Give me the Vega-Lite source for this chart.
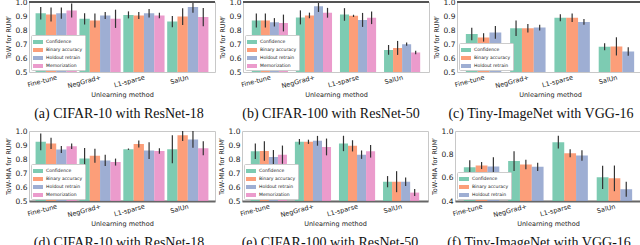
{
"$schema": "https://vega.github.io/schema/vega-lite/v6.json",
"padding": {"left": 4, "top": -3, "right": 0, "bottom": 0},
"data": {"values": [
{"p":"a","m":"Fine-tune","s":"Confidence","v":0.92,"lo":0.875,"hi":0.965},
{"p":"a","m":"Fine-tune","s":"Binary accuracy","v":0.911,"lo":0.861,"hi":0.96},
{"p":"a","m":"Fine-tune","s":"Holdout retrain","v":0.92,"lo":0.88,"hi":0.96},
{"p":"a","m":"Fine-tune","s":"Memorization","v":0.94,"lo":0.89,"hi":0.99},
{"p":"a","m":"NegGrad+","s":"Confidence","v":0.88,"lo":0.84,"hi":0.92},
{"p":"a","m":"NegGrad+","s":"Binary accuracy","v":0.867,"lo":0.817,"hi":0.917},
{"p":"a","m":"NegGrad+","s":"Holdout retrain","v":0.904,"lo":0.879,"hi":0.929},
{"p":"a","m":"NegGrad+","s":"Memorization","v":0.88,"lo":0.815,"hi":0.945},
{"p":"a","m":"L1-sparse","s":"Confidence","v":0.908,"lo":0.883,"hi":0.933},
{"p":"a","m":"L1-sparse","s":"Binary accuracy","v":0.904,"lo":0.879,"hi":0.929},
{"p":"a","m":"L1-sparse","s":"Holdout retrain","v":0.92,"lo":0.89,"hi":0.95},
{"p":"a","m":"L1-sparse","s":"Memorization","v":0.904,"lo":0.884,"hi":0.924},
{"p":"a","m":"SalUn","s":"Confidence","v":0.86,"lo":0.82,"hi":0.9},
{"p":"a","m":"SalUn","s":"Binary accuracy","v":0.896,"lo":0.836,"hi":0.956},
{"p":"a","m":"SalUn","s":"Holdout retrain","v":0.964,"lo":0.924,"hi":1.004},
{"p":"a","m":"SalUn","s":"Memorization","v":0.892,"lo":0.827,"hi":0.957},
{"p":"b","m":"Fine-tune","s":"Confidence","v":0.867,"lo":0.817,"hi":0.917},
{"p":"b","m":"Fine-tune","s":"Binary accuracy","v":0.867,"lo":0.817,"hi":0.917},
{"p":"b","m":"Fine-tune","s":"Holdout retrain","v":0.855,"lo":0.825,"hi":0.885},
{"p":"b","m":"Fine-tune","s":"Memorization","v":0.85,"lo":0.79,"hi":0.91},
{"p":"b","m":"NegGrad+","s":"Confidence","v":0.89,"lo":0.84,"hi":0.94},
{"p":"b","m":"NegGrad+","s":"Binary accuracy","v":0.904,"lo":0.884,"hi":0.924},
{"p":"b","m":"NegGrad+","s":"Holdout retrain","v":0.969,"lo":0.929,"hi":1.009},
{"p":"b","m":"NegGrad+","s":"Memorization","v":0.923,"lo":0.888,"hi":0.958},
{"p":"b","m":"L1-sparse","s":"Confidence","v":0.911,"lo":0.866,"hi":0.956},
{"p":"b","m":"L1-sparse","s":"Binary accuracy","v":0.901,"lo":0.893,"hi":0.909},
{"p":"b","m":"L1-sparse","s":"Holdout retrain","v":0.872,"lo":0.822,"hi":0.922},
{"p":"b","m":"L1-sparse","s":"Memorization","v":0.887,"lo":0.842,"hi":0.932},
{"p":"b","m":"SalUn","s":"Confidence","v":0.658,"lo":0.623,"hi":0.693},
{"p":"b","m":"SalUn","s":"Binary accuracy","v":0.672,"lo":0.622,"hi":0.722},
{"p":"b","m":"SalUn","s":"Holdout retrain","v":0.699,"lo":0.687,"hi":0.711},
{"p":"b","m":"SalUn","s":"Memorization","v":0.639,"lo":0.627,"hi":0.651},
{"p":"c","m":"Fine-tune","s":"Confidence","v":0.771,"lo":0.726,"hi":0.816},
{"p":"c","m":"Fine-tune","s":"Binary accuracy","v":0.747,"lo":0.717,"hi":0.777},
{"p":"c","m":"Fine-tune","s":"Holdout retrain","v":0.783,"lo":0.738,"hi":0.828},
{"p":"c","m":"NegGrad+","s":"Confidence","v":0.812,"lo":0.757,"hi":0.867},
{"p":"c","m":"NegGrad+","s":"Binary accuracy","v":0.812,"lo":0.782,"hi":0.842},
{"p":"c","m":"NegGrad+","s":"Holdout retrain","v":0.817,"lo":0.797,"hi":0.837},
{"p":"c","m":"L1-sparse","s":"Confidence","v":0.887,"lo":0.862,"hi":0.912},
{"p":"c","m":"L1-sparse","s":"Binary accuracy","v":0.887,"lo":0.857,"hi":0.917},
{"p":"c","m":"L1-sparse","s":"Holdout retrain","v":0.858,"lo":0.838,"hi":0.878},
{"p":"c","m":"SalUn","s":"Confidence","v":0.68,"lo":0.655,"hi":0.705},
{"p":"c","m":"SalUn","s":"Binary accuracy","v":0.683,"lo":0.618,"hi":0.748},
{"p":"c","m":"SalUn","s":"Holdout retrain","v":0.646,"lo":0.616,"hi":0.676},
{"p":"d","m":"Fine-tune","s":"Confidence","v":0.923,"lo":0.863,"hi":0.983},
{"p":"d","m":"Fine-tune","s":"Binary accuracy","v":0.911,"lo":0.871,"hi":0.951},
{"p":"d","m":"Fine-tune","s":"Holdout retrain","v":0.867,"lo":0.842,"hi":0.892},
{"p":"d","m":"Fine-tune","s":"Memorization","v":0.891,"lo":0.871,"hi":0.911},
{"p":"d","m":"NegGrad+","s":"Confidence","v":0.804,"lo":0.729,"hi":0.879},
{"p":"d","m":"NegGrad+","s":"Binary accuracy","v":0.824,"lo":0.774,"hi":0.874},
{"p":"d","m":"NegGrad+","s":"Holdout retrain","v":0.79,"lo":0.75,"hi":0.83},
{"p":"d","m":"NegGrad+","s":"Memorization","v":0.778,"lo":0.753,"hi":0.803},
{"p":"d","m":"L1-sparse","s":"Confidence","v":0.87,"lo":0.865,"hi":0.875},
{"p":"d","m":"L1-sparse","s":"Binary accuracy","v":0.908,"lo":0.883,"hi":0.933},
{"p":"d","m":"L1-sparse","s":"Holdout retrain","v":0.86,"lo":0.8,"hi":0.92},
{"p":"d","m":"L1-sparse","s":"Memorization","v":0.857,"lo":0.837,"hi":0.877},
{"p":"d","m":"SalUn","s":"Confidence","v":0.87,"lo":0.77,"hi":0.97},
{"p":"d","m":"SalUn","s":"Binary accuracy","v":0.969,"lo":0.929,"hi":1.009},
{"p":"d","m":"SalUn","s":"Holdout retrain","v":0.94,"lo":0.88,"hi":1.0},
{"p":"d","m":"SalUn","s":"Memorization","v":0.877,"lo":0.827,"hi":0.927},
{"p":"e","m":"Fine-tune","s":"Confidence","v":0.855,"lo":0.8,"hi":0.91},
{"p":"e","m":"Fine-tune","s":"Binary accuracy","v":0.857,"lo":0.787,"hi":0.927},
{"p":"e","m":"Fine-tune","s":"Holdout retrain","v":0.814,"lo":0.764,"hi":0.864},
{"p":"e","m":"Fine-tune","s":"Memorization","v":0.831,"lo":0.766,"hi":0.896},
{"p":"e","m":"NegGrad+","s":"Confidence","v":0.923,"lo":0.903,"hi":0.943},
{"p":"e","m":"NegGrad+","s":"Binary accuracy","v":0.923,"lo":0.908,"hi":0.938},
{"p":"e","m":"NegGrad+","s":"Holdout retrain","v":0.93,"lo":0.895,"hi":0.965},
{"p":"e","m":"NegGrad+","s":"Memorization","v":0.886,"lo":0.826,"hi":0.946},
{"p":"e","m":"L1-sparse","s":"Confidence","v":0.911,"lo":0.856,"hi":0.966},
{"p":"e","m":"L1-sparse","s":"Binary accuracy","v":0.894,"lo":0.854,"hi":0.934},
{"p":"e","m":"L1-sparse","s":"Holdout retrain","v":0.831,"lo":0.801,"hi":0.861},
{"p":"e","m":"L1-sparse","s":"Memorization","v":0.855,"lo":0.81,"hi":0.9},
{"p":"e","m":"SalUn","s":"Confidence","v":0.638,"lo":0.598,"hi":0.678},
{"p":"e","m":"SalUn","s":"Binary accuracy","v":0.638,"lo":0.563,"hi":0.713},
{"p":"e","m":"SalUn","s":"Holdout retrain","v":0.638,"lo":0.608,"hi":0.668},
{"p":"e","m":"SalUn","s":"Memorization","v":0.56,"lo":0.535,"hi":0.585},
{"p":"f","m":"Fine-tune","s":"Confidence","v":0.69,"lo":0.63,"hi":0.75},
{"p":"f","m":"Fine-tune","s":"Binary accuracy","v":0.704,"lo":0.674,"hi":0.734},
{"p":"f","m":"Fine-tune","s":"Holdout retrain","v":0.696,"lo":0.616,"hi":0.776},
{"p":"f","m":"NegGrad+","s":"Confidence","v":0.742,"lo":0.657,"hi":0.827},
{"p":"f","m":"NegGrad+","s":"Binary accuracy","v":0.713,"lo":0.673,"hi":0.753},
{"p":"f","m":"NegGrad+","s":"Holdout retrain","v":0.693,"lo":0.658,"hi":0.728},
{"p":"f","m":"L1-sparse","s":"Confidence","v":0.904,"lo":0.849,"hi":0.959},
{"p":"f","m":"L1-sparse","s":"Binary accuracy","v":0.809,"lo":0.774,"hi":0.844},
{"p":"f","m":"L1-sparse","s":"Holdout retrain","v":0.791,"lo":0.746,"hi":0.836},
{"p":"f","m":"SalUn","s":"Confidence","v":0.603,"lo":0.503,"hi":0.703},
{"p":"f","m":"SalUn","s":"Binary accuracy","v":0.594,"lo":0.484,"hi":0.704},
{"p":"f","m":"SalUn","s":"Holdout retrain","v":0.501,"lo":0.436,"hi":0.566}
]},
"spacing": 4,
"resolve": {"scale": {"color": "independent", "x": "independent", "y": "independent", "xOffset": "independent"}, "legend": {"color": "independent"}},
"vconcat": [
{"spacing": 1,
 "resolve": {"scale": {"color": "independent", "x": "independent", "y": "independent", "xOffset": "independent"}, "legend": {"color": "independent"}},
 "hconcat": [
 {"width": 186, "height": 70, "title": {"text": "(a) CIFAR-10 with ResNet-18", "dx": -3},
  "transform": [{"filter": "datum.p == 'a'"}],
  "layer": [
   {"mark": {"type": "bar", "clip": true, "opacity": 0.85},
    "encoding": {
     "x": {"field": "m", "type": "nominal", "sort": ["Fine-tune","NegGrad+","L1-sparse","SalUn"], "scale": {"paddingInner": 0.06, "paddingOuter": 0.15}, "title": "Unlearning method"},
     "xOffset": {"field": "s", "type": "nominal", "sort": ["Confidence","Binary accuracy","Holdout retrain","Memorization"]},
     "y": {"field": "v", "type": "quantitative", "scale": {"domain": [0.5, 1], "zero": false, "nice": false}, "title": "ToW for RUMᶠ", "axis": {"values": [0.5,0.6,0.7,0.8,0.9,1.0], "tickCount": 10, "format": ".1f"}},
     "color": {"field": "s", "type": "nominal", "scale": {"domain": ["Confidence","Binary accuracy","Holdout retrain","Memorization"], "range": ["#66c2a5","#fc8d62","#8da0cb","#e78ac3"]}, "legend": {"orient": "bottom-left", "title": null}}}},
   {"mark": {"type": "rule", "clip": true, "color": "#333", "strokeWidth": 1.2},
    "encoding": {
     "x": {"field": "m", "type": "nominal", "sort": ["Fine-tune","NegGrad+","L1-sparse","SalUn"], "title": "Unlearning method"},
     "xOffset": {"field": "s", "type": "nominal", "sort": ["Confidence","Binary accuracy","Holdout retrain","Memorization"]},
     "y": {"field": "lo", "type": "quantitative", "title": "ToW for RUMᶠ", "axis": {"values": [0.5,0.6,0.7,0.8,0.9,1.0], "tickCount": 10, "format": ".1f"}}, "y2": {"field": "hi"}}},
   {"mark": {"type": "rule", "color": "#555", "strokeWidth": 1.5}, "encoding": {"y": {"datum": 1.0}}}
  ]},
 {"width": 186, "height": 70, "title": {"text": "(b) CIFAR-100 with ResNet-50", "dx": -5},
  "transform": [{"filter": "datum.p == 'b'"}],
  "layer": [
   {"mark": {"type": "bar", "clip": true, "opacity": 0.85},
    "encoding": {
     "x": {"field": "m", "type": "nominal", "sort": ["Fine-tune","NegGrad+","L1-sparse","SalUn"], "scale": {"paddingInner": 0.18, "paddingOuter": 0.2}, "title": "Unlearning method"},
     "xOffset": {"field": "s", "type": "nominal", "sort": ["Confidence","Binary accuracy","Holdout retrain","Memorization"]},
     "y": {"field": "v", "type": "quantitative", "scale": {"domain": [0.5, 1], "zero": false, "nice": false}, "title": "ToW for RUMᶠ", "axis": {"values": [0.5,0.6,0.7,0.8,0.9,1.0], "tickCount": 10, "format": ".1f"}},
     "color": {"field": "s", "type": "nominal", "scale": {"domain": ["Confidence","Binary accuracy","Holdout retrain","Memorization"], "range": ["#66c2a5","#fc8d62","#8da0cb","#e78ac3"]}, "legend": {"orient": "bottom-left", "title": null}}}},
   {"mark": {"type": "rule", "clip": true, "color": "#333", "strokeWidth": 1.2},
    "encoding": {
     "x": {"field": "m", "type": "nominal", "sort": ["Fine-tune","NegGrad+","L1-sparse","SalUn"], "title": "Unlearning method"},
     "xOffset": {"field": "s", "type": "nominal", "sort": ["Confidence","Binary accuracy","Holdout retrain","Memorization"]},
     "y": {"field": "lo", "type": "quantitative", "title": "ToW for RUMᶠ", "axis": {"values": [0.5,0.6,0.7,0.8,0.9,1.0], "tickCount": 10, "format": ".1f"}}, "y2": {"field": "hi"}}},
   {"mark": {"type": "rule", "color": "#555", "strokeWidth": 1.5}, "encoding": {"y": {"datum": 1.0}}}
  ]},
 {"width": 186, "height": 70, "title": {"text": "(c) Tiny-ImageNet with VGG-16", "dx": -9},
  "transform": [{"filter": "datum.p == 'c'"}],
  "layer": [
   {"mark": {"type": "bar", "clip": true, "opacity": 0.85},
    "encoding": {
     "x": {"field": "m", "type": "nominal", "sort": ["Fine-tune","NegGrad+","L1-sparse","SalUn"], "scale": {"paddingInner": 0.2, "paddingOuter": 0.2}, "title": "Unlearning method"},
     "xOffset": {"field": "s", "type": "nominal", "sort": ["Confidence","Binary accuracy","Holdout retrain"]},
     "y": {"field": "v", "type": "quantitative", "scale": {"domain": [0.5, 1], "zero": false, "nice": false}, "title": "ToW for RUMᶠ", "axis": {"values": [0.5,0.6,0.7,0.8,0.9,1.0], "tickCount": 10, "format": ".1f"}},
     "color": {"field": "s", "type": "nominal", "scale": {"domain": ["Confidence","Binary accuracy","Holdout retrain"], "range": ["#66c2a5","#fc8d62","#8da0cb"]}, "legend": {"orient": "bottom-left", "title": null}}}},
   {"mark": {"type": "rule", "clip": true, "color": "#333", "strokeWidth": 1.2},
    "encoding": {
     "x": {"field": "m", "type": "nominal", "sort": ["Fine-tune","NegGrad+","L1-sparse","SalUn"], "title": "Unlearning method"},
     "xOffset": {"field": "s", "type": "nominal", "sort": ["Confidence","Binary accuracy","Holdout retrain"]},
     "y": {"field": "lo", "type": "quantitative", "title": "ToW for RUMᶠ", "axis": {"values": [0.5,0.6,0.7,0.8,0.9,1.0], "tickCount": 10, "format": ".1f"}}, "y2": {"field": "hi"}}},
   {"mark": {"type": "rule", "color": "#555", "strokeWidth": 1.5}, "encoding": {"y": {"datum": 1.0}}}
  ]}
 ]},
{"spacing": 1,
 "resolve": {"scale": {"color": "independent", "x": "independent", "y": "independent", "xOffset": "independent"}, "legend": {"color": "independent"}},
 "hconcat": [
 {"width": 186, "height": 70, "title": {"text": "(d) CIFAR-10 with ResNet-18", "dx": -3},
  "transform": [{"filter": "datum.p == 'd'"}],
  "layer": [
   {"mark": {"type": "bar", "clip": true, "opacity": 0.85},
    "encoding": {
     "x": {"field": "m", "type": "nominal", "sort": ["Fine-tune","NegGrad+","L1-sparse","SalUn"], "scale": {"paddingInner": 0.06, "paddingOuter": 0.15}, "title": "Unlearning method", "axis": {"domain": true}},
     "xOffset": {"field": "s", "type": "nominal", "sort": ["Confidence","Binary accuracy","Holdout retrain","Memorization"]},
     "y": {"field": "v", "type": "quantitative", "scale": {"domain": [0.5, 1], "zero": false, "nice": false}, "title": "ToW-MIA for RUMᶠ", "axis": {"values": [0.5,0.6,0.7,0.8,0.9,1.0], "tickCount": 10, "format": ".1f"}},
     "color": {"field": "s", "type": "nominal", "scale": {"domain": ["Confidence","Binary accuracy","Holdout retrain","Memorization"], "range": ["#66c2a5","#fc8d62","#8da0cb","#e78ac3"]}, "legend": {"orient": "bottom-left", "title": null}}}},
   {"mark": {"type": "rule", "clip": true, "color": "#333", "strokeWidth": 1.2},
    "encoding": {
     "x": {"field": "m", "type": "nominal", "sort": ["Fine-tune","NegGrad+","L1-sparse","SalUn"], "title": "Unlearning method", "axis": {"domain": true}},
     "xOffset": {"field": "s", "type": "nominal", "sort": ["Confidence","Binary accuracy","Holdout retrain","Memorization"]},
     "y": {"field": "lo", "type": "quantitative", "title": "ToW-MIA for RUMᶠ", "axis": {"values": [0.5,0.6,0.7,0.8,0.9,1.0], "tickCount": 10, "format": ".1f"}}, "y2": {"field": "hi"}}}
  ]},
 {"width": 186, "height": 70, "title": {"text": "(e) CIFAR-100 with ResNet-50", "dx": -5},
  "transform": [{"filter": "datum.p == 'e'"}],
  "layer": [
   {"mark": {"type": "bar", "clip": true, "opacity": 0.85},
    "encoding": {
     "x": {"field": "m", "type": "nominal", "sort": ["Fine-tune","NegGrad+","L1-sparse","SalUn"], "scale": {"paddingInner": 0.18, "paddingOuter": 0.2}, "title": "Unlearning method", "axis": {"domain": true}},
     "xOffset": {"field": "s", "type": "nominal", "sort": ["Confidence","Binary accuracy","Holdout retrain","Memorization"]},
     "y": {"field": "v", "type": "quantitative", "scale": {"domain": [0.5, 1], "zero": false, "nice": false}, "title": "ToW-MIA for RUMᶠ", "axis": {"values": [0.5,0.6,0.7,0.8,0.9,1.0], "tickCount": 10, "format": ".1f"}},
     "color": {"field": "s", "type": "nominal", "scale": {"domain": ["Confidence","Binary accuracy","Holdout retrain","Memorization"], "range": ["#66c2a5","#fc8d62","#8da0cb","#e78ac3"]}, "legend": {"orient": "bottom-left", "title": null}}}},
   {"mark": {"type": "rule", "clip": true, "color": "#333", "strokeWidth": 1.2},
    "encoding": {
     "x": {"field": "m", "type": "nominal", "sort": ["Fine-tune","NegGrad+","L1-sparse","SalUn"], "title": "Unlearning method", "axis": {"domain": true}},
     "xOffset": {"field": "s", "type": "nominal", "sort": ["Confidence","Binary accuracy","Holdout retrain","Memorization"]},
     "y": {"field": "lo", "type": "quantitative", "title": "ToW-MIA for RUMᶠ", "axis": {"values": [0.5,0.6,0.7,0.8,0.9,1.0], "tickCount": 10, "format": ".1f"}}, "y2": {"field": "hi"}}}
  ]},
 {"width": 186, "height": 70, "title": {"text": "(f) Tiny-ImageNet with VGG-16", "dx": -9},
  "transform": [{"filter": "datum.p == 'f'"}],
  "layer": [
   {"mark": {"type": "bar", "clip": true, "opacity": 0.85},
    "encoding": {
     "x": {"field": "m", "type": "nominal", "sort": ["Fine-tune","NegGrad+","L1-sparse","SalUn"], "scale": {"paddingInner": 0.2, "paddingOuter": 0.2}, "title": "Unlearning method", "axis": {"domain": true}},
     "xOffset": {"field": "s", "type": "nominal", "sort": ["Confidence","Binary accuracy","Holdout retrain"]},
     "y": {"field": "v", "type": "quantitative", "scale": {"domain": [0.4, 1], "zero": false, "nice": false}, "title": "ToW-MIA for RUMᶠ", "axis": {"values": [0.4,0.6,0.8,1.0], "tickCount": 10, "format": ".1f"}},
     "color": {"field": "s", "type": "nominal", "scale": {"domain": ["Confidence","Binary accuracy","Holdout retrain"], "range": ["#66c2a5","#fc8d62","#8da0cb"]}, "legend": {"orient": "bottom-left", "title": null}}}},
   {"mark": {"type": "rule", "clip": true, "color": "#333", "strokeWidth": 1.2},
    "encoding": {
     "x": {"field": "m", "type": "nominal", "sort": ["Fine-tune","NegGrad+","L1-sparse","SalUn"], "title": "Unlearning method", "axis": {"domain": true}},
     "xOffset": {"field": "s", "type": "nominal", "sort": ["Confidence","Binary accuracy","Holdout retrain"]},
     "y": {"field": "lo", "type": "quantitative", "title": "ToW-MIA for RUMᶠ", "axis": {"values": [0.4,0.6,0.8,1.0], "tickCount": 10, "format": ".1f"}}, "y2": {"field": "hi"}}}
  ]}
 ]}
],
"config": {
 "view": {"stroke": "#c8c8c8", "strokeWidth": 1},
 "axis": {"labelFont": "DejaVu Sans", "titleFont": "DejaVu Sans", "grid": false, "ticks": false, "domain": false, "labelColor": "#222", "titleColor": "#222", "titleFontWeight": "normal", "labelFontSize": 7.5, "titleFontSize": 6.5, "labelPadding": 2, "titlePadding": 3, "domainColor": "#666", "domainWidth": 2, "labelOverlap": false},
 "axisX": {"labelAngle": -15, "labelFontSize": 6.5, "labelPadding": 2, "titlePadding": 2},
 "axisY": {"titlePadding": 4},
 "legend": {"orient": "bottom-left", "offset": 2, "padding": 2, "fillColor": "white", "strokeColor": "#ccc", "labelFont": "DejaVu Sans", "labelFontSize": 4.5, "labelColor": "#222", "symbolType": "M-1,-0.4H1V0.4H-1Z", "symbolSize": 100, "symbolStrokeWidth": 0, "symbolOpacity": 0.85, "rowPadding": 1, "labelOffset": 3, "cornerRadius": 1},
 "title": {"orient": "bottom", "font": "Liberation Serif", "fontSize": 14, "fontWeight": "normal", "color": "#111", "offset": 9, "anchor": "middle"}
}
}
